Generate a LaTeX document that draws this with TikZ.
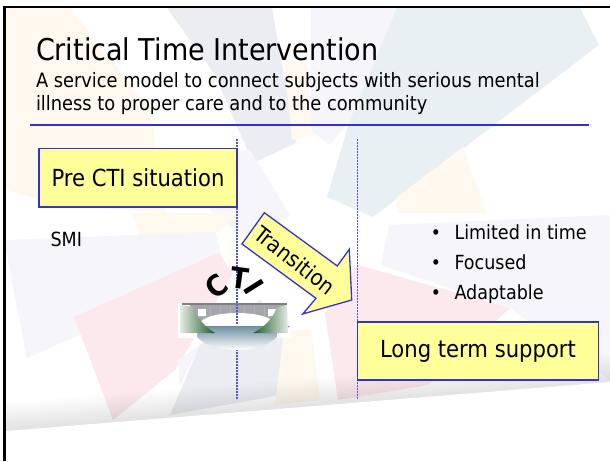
\documentclass[tikz,border=0pt]{standalone}
\usepackage{fontspec}
\setmainfont{DejaVu Sans Condensed}
\usetikzlibrary{calc,positioning}
\definecolor{lineblue}{HTML}{3333CC}
\definecolor{boxyellow}{HTML}{FFFF99}
\definecolor{cream}{HTML}{FEF8EE}
\definecolor{lav}{HTML}{F5F5FB}
\definecolor{lavdark}{HTML}{ECECF3}
\definecolor{paleblue}{HTML}{E8F0F4}
\definecolor{palepink}{HTML}{FBE9EE}
\definecolor{water}{HTML}{6F8FA0}
\definecolor{hilldark}{HTML}{1F5A2A}
\definecolor{hilllight}{HTML}{E4ECE3}
\definecolor{deck}{HTML}{A5A5AE}
\begin{document}
\begin{tikzpicture}[x=1pt,y=-1pt,
        label/.style={inner sep=0pt,outer sep=0pt,anchor=base west},
        block/.style={draw=lineblue,line width=1.3pt,fill=boxyellow,rectangle,inner sep=0pt,outer sep=0pt,font=\fontsize{23.5}{23.5}\selectfont},
        bullet/.style={label,font=\fontsize{19.5}{20}\selectfont,node distance=30pt},
        divider/.style={draw=lineblue!85!white,line width=1.3pt,dash pattern=on 1.5pt off 1.5pt},
        letter/.style={inner sep=0pt,font=\fontsize{29}{29}\bfseries\selectfont}]

        \useasboundingbox (0,0) rectangle (610,461);
        \fill[white] (0,0) rectangle (610,461);

        % pale pieces behind the slide
        \fill[cream] (6,8) -- (70,8) -- (150,110) -- (165,213) -- (60,205) -- (6,190) -- cycle;
        \fill[lavdark] (167,8) -- (272,8) -- (296,143) -- (253,163) -- (215,75) -- cycle;
        \fill[lav] (311,8) -- (397,8) -- (350,120) -- (330,145) -- (310,130) -- cycle;
        \fill[paleblue] (397,8) -- (580,8) -- (599,45) -- (373,217) -- (327,197) -- (350,120) -- cycle;
        \fill[cream] (284,60) -- (307,60) -- (312,135) -- (292,140) -- cycle;
        \fill[lav] (165,155) -- (250,150) -- (290,215) -- (250,240) -- (215,215) -- cycle;
        \fill[cream] (463,147) -- (486,213) -- (397,213) -- (397,197) -- cycle;
        \fill[cream] (132,213) -- (240,213) -- (218,232) -- (140,236) -- cycle;
        \fill[lav] (6,240) -- (215,232) -- (225,270) -- (27,358) -- (6,250) -- cycle;
        \fill[lav] (389,225) -- (610,215) -- (610,380) -- (510,308) -- (381,265) -- cycle;
        \fill[palepink] (74,317) -- (218,253) -- (233,273) -- (175,370) -- (113,420) -- cycle;
        \fill[palepink] (358,265) -- (510,308) -- (428,385) -- (338,400) -- (325,313) -- cycle;
        \fill[lavdark] (260,300) -- (290,330) -- (280,395) -- (170,415) -- (200,345) -- cycle;
        \fill[cream] (284,330) -- (311,330) -- (320,400) -- (275,405) -- cycle;
        \fill[lav] (178,360) -- (200,345) -- (180,385) -- cycle;
        \foreach \d in {0,3,...,27}
            \fill[black,opacity=.012] (6,430-\d) -- (610,382-\d) -- (610,384) -- (6,432) -- cycle;
        \fill[white] (6,431) -- (610,382) -- (610,461) -- (6,461) -- cycle;

        % slide border
        \draw[black,line width=2.6pt] (4.5,461) -- (4.5,7) -- (610,7);

        \node (title) [label,font=\fontsize{30}{30}\selectfont] at (36,60) {Critical Time Intervention};
        \node (subone) [label,font=\fontsize{19.8}{20}\selectfont] at (36,87) {A service model to connect subjects with serious mental};
        \node (subtwo) [label,font=\fontsize{19.8}{20}\selectfont] at (36,110) {illness to proper care and to the community};
        \coordinate (ruleleft) at (30,125);
        \coordinate (ruleright) at (589,125);
        \draw[lineblue,line width=1.3pt] (ruleleft) -- (ruleright);

        % bridge backing goes under the dotted lines
        \fill[white] (178,303) rectangle (291,337);
        \fill[deck] (190,305) rectangle (285,325);
        \fill[white] (237,324) ellipse [x radius=37,y radius=11];
        \fill[white] (198,309) rectangle (206,316) (268,309) rectangle (277,316);

        \coordinate (leftdot) at (237,139);
        \coordinate (leftend) at (237,399);
        \coordinate (rightdot) at (357.5,139);
        \coordinate (rightend) at (357.5,399);
        \draw[divider] (leftdot) -- (leftend);
        \draw[divider] (rightdot) -- (rightend);

        % bridge
        \fill[white] (197,325) rectangle (277,338);
        \shade[top color=water,bottom color=white] (184,326) -- (290,326) -- (277,337) .. controls (265,348) and (250,350) .. (237,350) .. controls (222,350) and (205,346) .. (197,337) -- (180,333) -- cycle;
        \fill[white] (178,333) rectangle (197,338) (277,333) rectangle (291,338);
        \shade[left color=hilllight,right color=hilldark] (180,305) -- (193,307) .. controls (197,318) and (205,327) .. (215,333) -- (180,333) -- cycle;
        \shade[right color=hilllight,left color=hilldark] (287,305) -- (277,307) .. controls (273,318) and (265,327) .. (253,333) -- (288,333) -- cycle;
        \draw[black!50,line width=2.5pt] (182,304) -- (287,304);
        \draw[black!30,line width=.8pt] (210,306) -- (210,316) (220,306) -- (220,314) (230,306) -- (230,313) (244,306) -- (244,313) (254,306) -- (254,314) (264,306) -- (264,316);

        \node (letc) [letter,rotate=38] at (217,286) {C};
        \node (lett) [letter,rotate=-8] at (240,278) {T};
        \node (leti) [letter,rotate=-58] at (254,287) {I};

        % transition arrow
        \draw[lineblue,line width=1.3pt,fill=boxyellow,line join=miter] (264.3,212.7) -- (337.3,266) -- (349.3,249.3) -- (351.7,300) -- (302.7,314) -- (316,298.3) -- (242,244) -- cycle;
        \node (transition) [inner sep=0pt,rotate=-38,font=\fontsize{22}{22}\selectfont] at (295,260) {Transition};

        \node (pre) [block,minimum width=198pt,minimum height=58.5pt,anchor=north west] at (39,148.5) {Pre CTI situation};
        \node (long) [block,minimum width=241pt,minimum height=58pt,anchor=north west] at (357.5,322) {Long term support};

        \node (smi) [label,font=\fontsize{19.5}{20}\selectfont] at (50.5,246) {SMI};

        \node (limited) [bullet] at (454.5,239) {Limited in time};
        \node (focused) [bullet,below = of limited.base west,anchor=base west] {Focused};
        \node (adaptable) [bullet,below = of focused.base west,anchor=base west] {Adaptable};
        \node (dotone) [bullet,anchor=base,font=\fontsize{19}{19}\selectfont] at (436,239) {•};
        \node (dottwo) [bullet,below = of dotone.base,anchor=base,font=\fontsize{19}{19}\selectfont] {•};
        \node (dotthree) [bullet,below = of dottwo.base,anchor=base,font=\fontsize{19}{19}\selectfont] {•};
\end{tikzpicture}
\end{document}
